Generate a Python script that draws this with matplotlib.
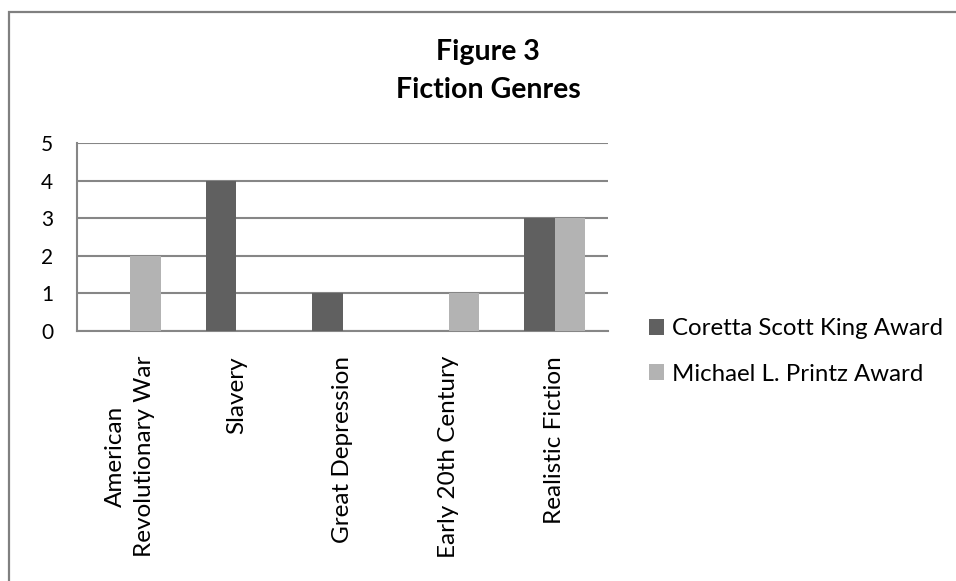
import numpy as np
import matplotlib
matplotlib.use("Agg")
import matplotlib.pyplot as plt
from matplotlib.patches import Rectangle

plt.rcParams['font.family'] = ['Lato', 'DejaVu Sans']

# chart data
genres = ['American\nRevolutionary War', 'Slavery', 'Great Depression',
          'Early 20th Century', 'Realistic Fiction']
series_names = ['Coretta Scott King Award', 'Michael L. Printz Award']
king = [0, 4, 1, 0, 3]
printz = [2, 0, 0, 1, 3]
colors = ['#606060', '#b3b3b3']

W, H = 956, 581
fig = plt.figure(figsize=(W / 100, H / 100), dpi=100)

# plot area in pixels: left 77, right 608, top 143, bottom 331
ax = fig.add_axes([77 / W, 1 - 331 / H, (608 - 77) / W, (331 - 143) / H])

x = np.arange(len(genres))
bw = 0.287
ax.bar(x - bw / 2, king, bw, color=colors[0], label=series_names[0], zorder=3)
ax.bar(x + bw / 2, printz, bw, color=colors[1], label=series_names[1], zorder=3)

ax.set_xlim(-0.5, len(genres) - 0.5)
ax.set_ylim(0, 5)
ax.set_yticks(range(6))
ax.yaxis.grid(True, color='#868686', linewidth=1.5, zorder=0)
ax.set_axisbelow(True)

for s in ['top', 'right']:
    ax.spines[s].set_visible(False)
for s in ['left', 'bottom']:
    ax.spines[s].set_color('#868686')
    ax.spines[s].set_linewidth(1.5)

ax.set_xticks(x)
ax.set_xticklabels(genres, rotation=90, ha='center', va='top',
                   multialignment='center', fontsize=17.5, linespacing=1.5)
ax.tick_params(axis='x', length=0, pad=18)
ax.tick_params(axis='y', length=0, pad=17, labelsize=15)

# title
fig.text(488 / W, 1 - 71 / H, 'Figure 3\nFiction Genres', ha='center', va='center',
         fontsize=20.5, fontweight='bold', linespacing=1.6)

# legend
ax.legend(loc='center left', bbox_to_anchor=(649 / W, 1 - 351.5 / H),
          bbox_transform=fig.transFigure, frameon=False, fontsize=17.3,
          handlelength=0.62, handleheight=0.62, handletextpad=0.35,
          labelspacing=1.0, borderpad=0, borderaxespad=0)

# outer chart border (only top and left edges fall inside the picture)
fig.patches.append(Rectangle((9 / W, -0.1), 1.2, 1.1 - 12 / H, transform=fig.transFigure,
                             fill=False, edgecolor='#808080', linewidth=1.6))

fig.savefig('out.png', dpi=100)
